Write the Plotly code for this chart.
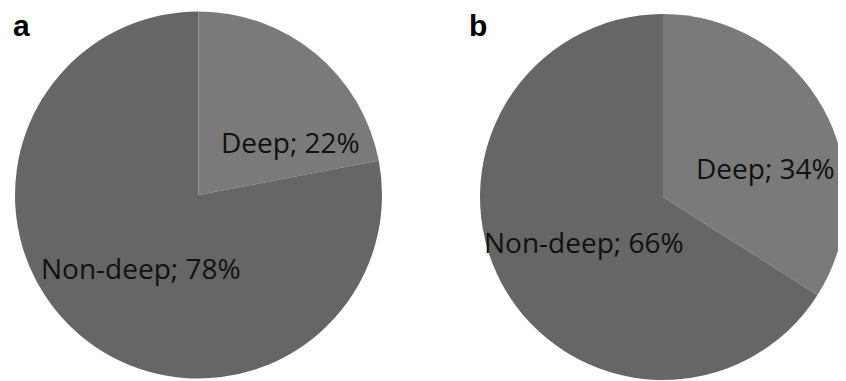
import plotly.graph_objects as go

categories = ["Deep", "Non-deep"]
values_a = [22, 78]
values_b = [34, 66]
panel_labels = ["a", "b"]

colors = ["#7a7a7a", "#666666"]
# the page body has an 8px default margin, so the figure sits at (8, 8)
OFF = 8
W, H = 846 - OFF, 381 - OFF

fig = go.Figure()

def px_x(x):
    return (x - OFF) / W

def px_y(y):
    return 1 - (y - OFF) / H

# pie a: center (198.5, 195), r 183.5 ; pie b: center (663, 197), r 183
pies = [
    (values_a, (198.5, 195.0, 183.5)),
    (values_b, (663.0, 197.0, 183.0)),
]
for vals, (cx, cy, r) in pies:
    fig.add_trace(go.Pie(
        labels=categories, values=vals, sort=False, direction="clockwise",
        rotation=0, textinfo="none", hoverinfo="label+percent",
        marker=dict(colors=colors, line=dict(width=0)),
        domain=dict(x=[max(0, px_x(cx - r)), min(1, px_x(cx + r))],
                    y=[max(0, px_y(cy + r)), min(1, px_y(cy - r))]),
        showlegend=False,
    ))

# slice label positions (pixels)
label_pos = [
    [(290, 142), (140.5, 268)],
    [(765, 168), (584, 242)],
]
all_vals = [values_a, values_b]
font_lbl = dict(family="Open Sans", size=28, color="#111111")
for vals, poss in zip(all_vals, label_pos):
    for cat, v, (x, y) in zip(categories, vals, poss):
        fig.add_annotation(
            text=f"{cat}; {v}%", x=px_x(x), y=px_y(y), xref="paper", yref="paper",
            xanchor="center", yanchor="middle", showarrow=False, font=font_lbl,
        )

panel_pos = [(21, 8), (478, 8)]
for lab, (x, y) in zip(panel_labels, panel_pos):
    fig.add_annotation(
        text=f"<b>{lab}</b>", x=px_x(x), y=px_y(y), xref="paper", yref="paper",
        xanchor="center", yanchor="top", showarrow=False, borderpad=0,
        font=dict(family="Liberation Sans", size=30, color="#000000"),
    )

fig.update_layout(
    width=W, height=H, margin=dict(l=0, r=0, t=0, b=0),
    paper_bgcolor="white", plot_bgcolor="white",
)

fig.write_html("out.html")
